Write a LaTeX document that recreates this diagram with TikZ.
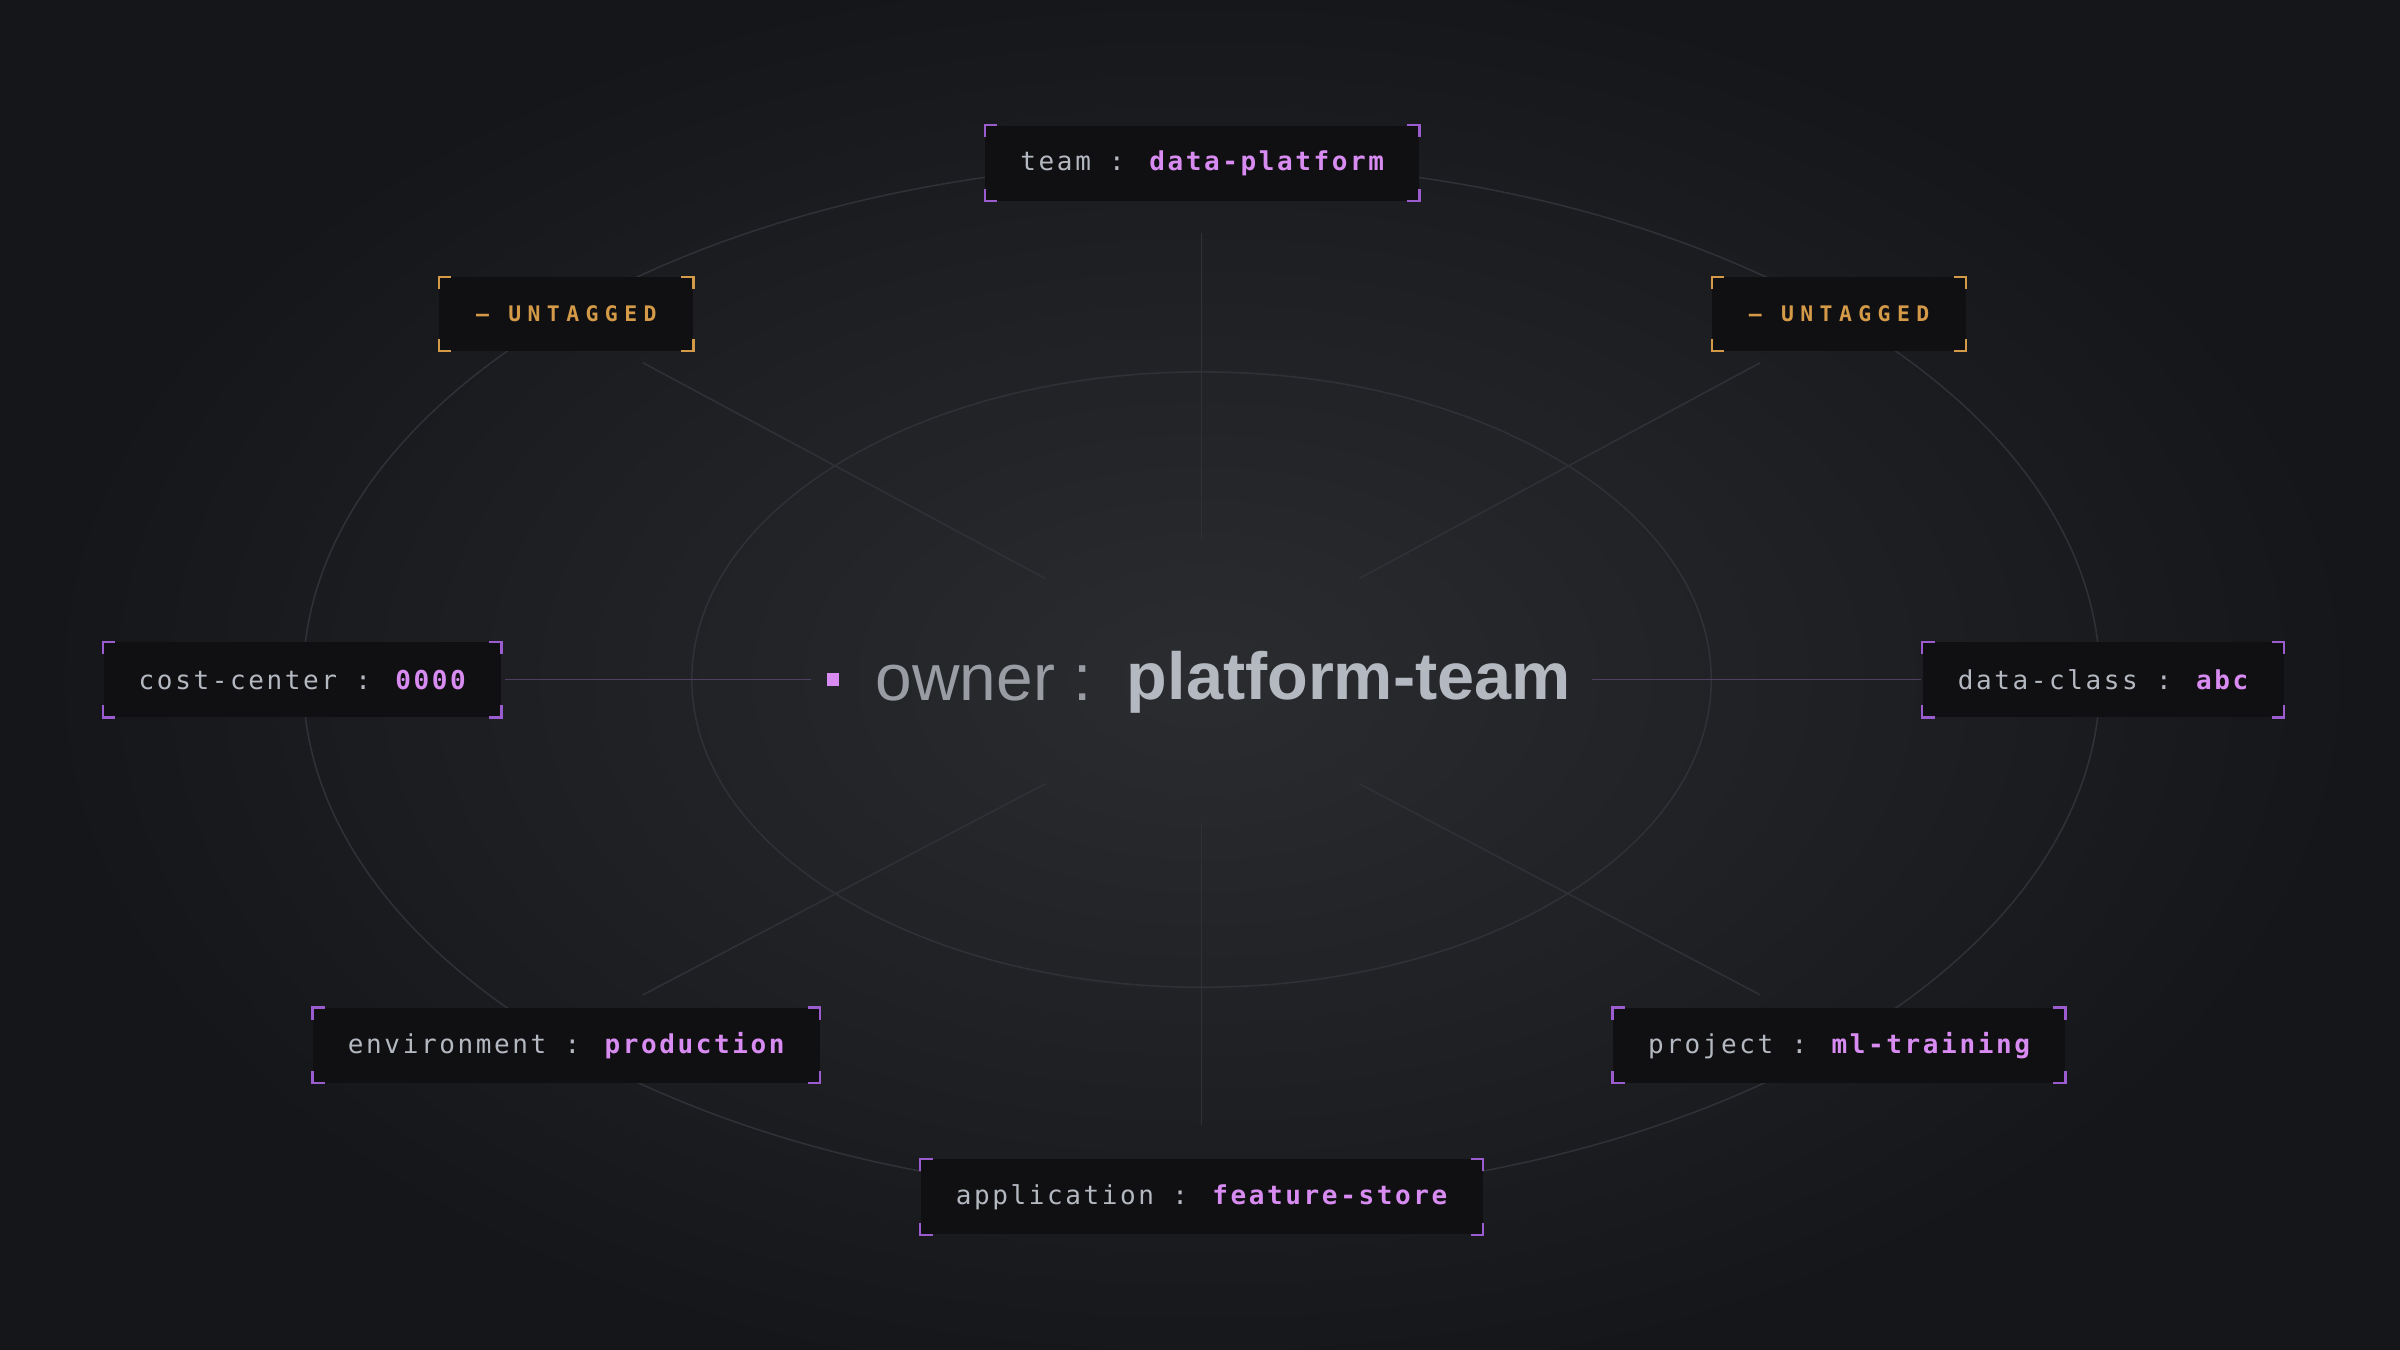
\documentclass[tikz,border=0pt]{standalone}
\usepackage{fontspec}
\setmainfont{Liberation Sans}
\newfontfamily\tagfont[LetterSpace=10]{DejaVu Sans Mono}
\newfontfamily\warnfont[LetterSpace=30]{DejaVu Sans Mono}
\definecolor{bgc}{HTML}{15161A}
\definecolor{bgmid}{HTML}{2B2C30}
\definecolor{boxc}{HTML}{101013}
\definecolor{keyc}{HTML}{B4B8C0}
\definecolor{valc}{HTML}{D88CF2}
\definecolor{purc}{HTML}{9A5CCF}
\definecolor{orac}{HTML}{D49A48}
\definecolor{linec}{HTML}{303136}

\tikzset{
	tag/.style={fill=boxc,inner xsep=23pt,inner ysep=0pt,minimum height=49pt,font=\tagfont\fontsize{17}{17}\selectfont,text=keyc},
	warn/.style={tag,inner xsep=24pt,minimum height=48pt,font=\warnfont\fontsize{14}{14}\selectfont\bfseries,text=orac},
	spoke/.style={linec,line width=1pt}
}
\newcommand{\corners}[2]{%
	\draw[#2,line width=1.5pt] ([yshift=-8pt]#1.north west)--(#1.north west)--([xshift=8pt]#1.north west)
		([xshift=-8pt]#1.north east)--(#1.north east)--([yshift=-8pt]#1.north east)
		([yshift=8pt]#1.south west)--(#1.south west)--([xshift=8pt]#1.south west)
		([xshift=-8pt]#1.south east)--(#1.south east)--([yshift=8pt]#1.south east);}

\begin{document}
\begin{tikzpicture}[x=1pt,y=-1pt]
	\useasboundingbox (0,0) rectangle (1568,882);
	\fill[bgc] (0,0) rectangle (1568,882);
	\shade[inner color=bgmid,outer color=bgc] (785,444) ellipse (760 and 470);
	% rings
	\draw[spoke] (785,444) ellipse (333 and 201);
	\draw[spoke] (785,444) ellipse (587 and 338);
	% spokes
	\coordinate (c) at (785,444);
	\draw[spoke] (785,152)--(785,352) (785,538)--(785,735);
	\draw[spoke] (420,237)--(683,378) (1150,237)--(888,378);
	\draw[spoke] (420,650)--(683,512) (1150,650)--(888,512);
	\draw[spoke,color=purc!30!linec] (330,444)--(530,444) (1040,444)--(1255,444);
	% tags
	\node[tag] (team) at (785.5,106.5) {team : \textcolor{valc}{\bfseries data-platform}};
	\node[warn] (untl) at (370,205) {— UNTAGGED};
	\node[warn] (untr) at (1201.5,205) {— UNTAGGED};
	\node[tag] (cost) at (197.5,444) {cost-center : \textcolor{valc}{\bfseries 0000}};
	\node[tag] (dcls) at (1374,444) {data-class : \textcolor{valc}{\bfseries abc}};
	\node[tag] (env) at (370,683) {environment : \textcolor{valc}{\bfseries production}};
	\node[tag] (proj) at (1201.5,683) {project : \textcolor{valc}{\bfseries ml-training}};
	\node[tag] (app) at (785,782) {application : \textcolor{valc}{\bfseries feature-store}};
	\foreach \n in {team,cost,dcls,env,proj,app} {\corners{\n}{purc}}
	\foreach \n in {untl,untr} {\corners{\n}{orac}}
	% center
	\node[fill=valc,minimum size=8pt,inner sep=0pt] (dot) at (544,444) {};
	\node[anchor=west,font=\fontsize{43}{43}\selectfont,text=keyc!85!black,inner sep=0pt] (own) at (572,446) {owner :};
	\node[anchor=west,font=\fontsize{43.5}{43.5}\selectfont\bfseries,text=keyc,inner sep=0pt] (plat) at (736,446) {platform-team};
\end{tikzpicture}
\end{document}
